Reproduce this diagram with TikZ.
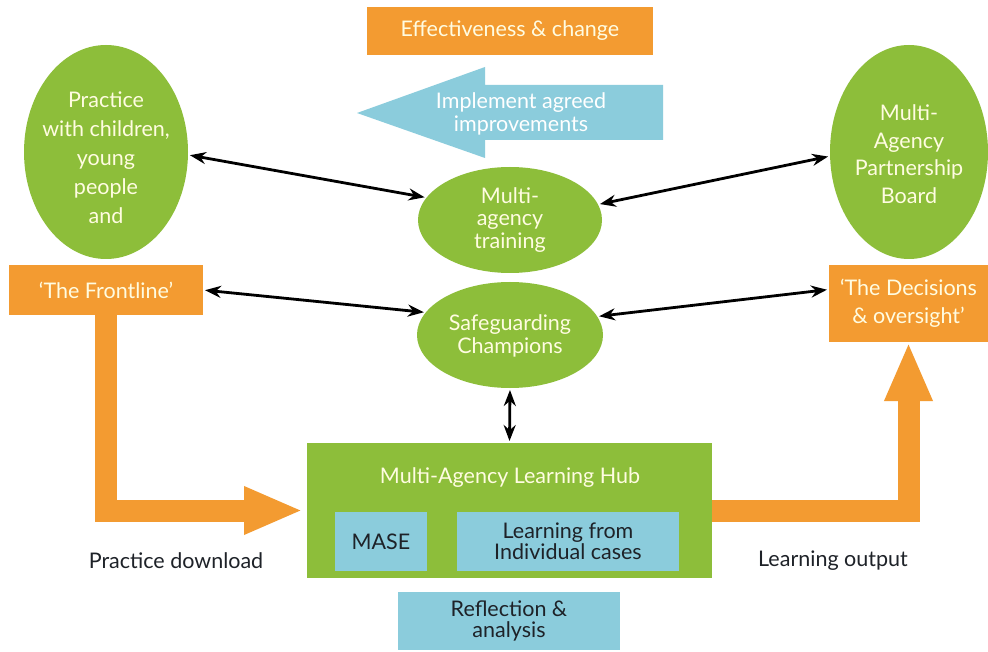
\documentclass[tikz,border=0pt]{standalone}
\usepackage{fontspec}
\setmainfont{Lato}
\usetikzlibrary{shapes.geometric,arrows.meta,calc}
\definecolor{hgreen}{RGB}{141,190,58}
\definecolor{horange}{RGB}{243,155,49}
\definecolor{hblue}{RGB}{139,204,220}
\definecolor{hcream}{RGB}{255,252,225}
\definecolor{hdark}{RGB}{30,34,40}
\begin{document}
\begin{tikzpicture}[x=1pt,y=-1pt,
  every node/.style={inner sep=0pt, outer sep=0pt, align=center},
  txt/.style={font=\fontsize{21.5}{#1}\selectfont},
  txt/.default=22,
  greenell/.style={ellipse, fill=hgreen},
  greentext/.style={text=hcream},
  orangebox/.style={rectangle, fill=horange, text=hcream},
  bluebox/.style={rectangle, fill=hblue, text=hdark},
  link/.style={line width=2.8pt, black, shorten <=2pt, shorten >=2pt, {Stealth[length=16pt,width=12pt]}-{Stealth[length=16pt,width=12pt]}},
  bigarrow/.style={line width=22pt, horange, line join=miter, -{Triangle[width=44pt,length=59pt]}},
  plain/.style={text=hdark}
]
\useasboundingbox (0,0) rectangle (988,652);
\fill[white] (0,0) rectangle (988,652);

% top labels
\node[orangebox, minimum width=286pt, minimum height=48pt, txt] (effect) at (510,31) {Effectiveness \& change};
\fill[hblue] (357,113) -- (485,67) -- (485,85) -- (663,85) -- (663,140) -- (485,140) -- (485,158) -- cycle;
\node[text=white, txt=23] (implement) at (521,114) {Implement agreed\\improvements};

% ellipses
\node[greenell, minimum width=164pt, minimum height=214pt] (practice) at (106,152) {};
\node[greentext, txt=29] (practicetext) at (106,158) {Practice\\with children,\\young\\people\\and};
\node[greenell, minimum width=158pt, minimum height=214pt] (mapb) at (909,152) {};
\node[greentext, txt=27.5] (mapbtext) at (909,154) {Multi-\\Agency\\Partnership\\Board};
\node[greenell, minimum width=184pt, minimum height=106pt] (training) at (510,220) {};
\node[greentext, txt=22.5] (trainingtext) at (510,220) {Multi-\\agency\\training};
\node[greenell, minimum width=186pt, minimum height=106pt] (champions) at (510,335) {};
\node[greentext, txt=23] (championstext) at (510,336) {Safeguarding\\Champions};

% orange boxes
\node[orangebox, minimum width=194pt, minimum height=50pt, txt] (frontline) at (106,290) {‘The Frontline’};
\node[orangebox, minimum width=159pt, minimum height=77pt, txt=28] (decisions) at (908.5,303.5) {‘The Decisions\\\& oversight’};

% hub
\node[rectangle, fill=hgreen, minimum width=405pt, minimum height=135pt] (hub) at (509.5,510.5) {};
\node[greentext, txt] (hubtext) at (510,478) {Multi-Agency Learning Hub};
\node[bluebox, minimum width=92pt, minimum height=59pt, txt] (mase) at (381,541.5) {MASE};
\node[bluebox, minimum width=222pt, minimum height=59pt, txt=21] (cases) at (568,541.5) {Learning from\\Individual cases};
\node[bluebox, minimum width=222pt, minimum height=58pt, txt=21] (reflect) at (509,621) {Reflection \&\\analysis};

% side labels
\node[plain, txt] (download) at (176,561) {Practice download};
\node[plain, txt] (output) at (833,561) {Learning output};

% big arrows
\draw[bigarrow, shorten >=4pt] (frontline.south) |- (hub.west);
\draw[bigarrow] (hub.east) -| (decisions.south);

% links
\draw[link] (practice.-2) -- (training.165);
\draw[link] (frontline.east) -- (champions.165);
\draw[link] (training.10) -- (mapb.183);
\draw[link] (champions.12) -- (decisions.170);
\draw[link] (champions.south) -- (hub.north);
\end{tikzpicture}
\end{document}
